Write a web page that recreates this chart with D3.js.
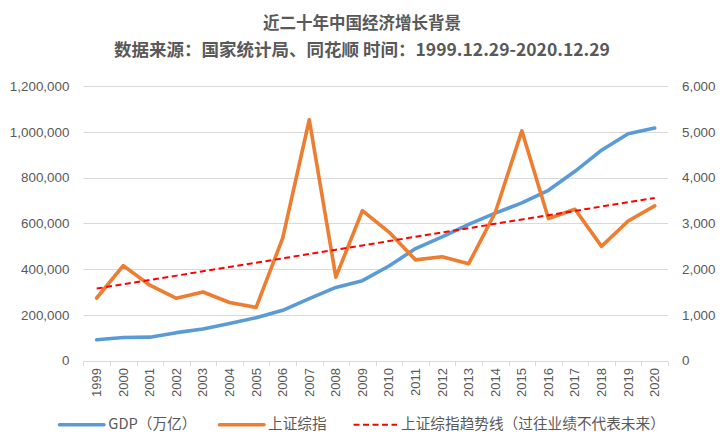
<!DOCTYPE html>
<html>
<head>
<meta charset="utf-8">
<script src="https://cdn.jsdelivr.net/npm/d3@7"></script>
<style>
  html, body { margin: 0; padding: 0; background: #fff; }
  svg { display: block; }
  text { font-family: "Liberation Sans", Arial, "Noto Sans CJK SC", sans-serif; }
  .cjk { font-family: "Noto Sans CJK SC", "Liberation Sans", sans-serif; }
</style>
</head>
<body>
<svg id="chart" width="724" height="448"></svg>
<script>
const years = ["1999","2000","2001","2002","2003","2004","2005","2006","2007","2008","2009","2010","2011","2012","2013","2014","2015","2016","2017","2018","2019","2020"];
const gdp = [90564, 100280, 102000, 121717, 137422, 161840, 187319, 219439, 270232, 319516, 349081, 413030, 489301, 540367, 595244, 643974, 689052, 744127, 827122, 919281, 990865, 1015986];
const szIndex = [1366, 2073, 1646, 1358, 1497, 1267, 1161, 2675, 5262, 1821, 3277, 2808, 2199, 2269, 2116, 3235, 5020, 3104, 3307, 2494, 3050, 3379];
const leftTicks = [0, 200000, 400000, 600000, 800000, 1000000, 1200000];
const rightTicks = [0, 1000, 2000, 3000, 4000, 5000, 6000];
const titleLines = ["近二十年中国经济增长背景", "数据来源：国家统计局、同花顺 时间：1999.12.29-2020.12.29"];
const legendLabels = ["GDP（万亿）", "上证综指", "上证综指趋势线（过往业绩不代表未来）"];

const svg = d3.select("#chart");
const M = { left: 83.4, right: 668, top: 86, bottom: 360.5 };
const grey = "#595959";

const x = d3.scaleBand().domain(years).range([M.left, M.right]);
const yL = d3.scaleLinear().domain([0, 1200000]).range([M.bottom, M.top]);
const yR = d3.scaleLinear().domain([0, 6000]).range([M.bottom, M.top]);
const cx = d => x(d) + x.bandwidth() / 2;

// Titles
svg.append("text").attr("class", "cjk").attr("x", 362).attr("y", 24.5)
  .attr("text-anchor", "middle").attr("dominant-baseline", "middle")
  .attr("font-size", 16.5).attr("font-weight", "bold").attr("fill", grey).text(titleLines[0]);
svg.append("text").attr("class", "cjk").attr("x", 362).attr("y", 51.5)
  .attr("text-anchor", "middle").attr("dominant-baseline", "middle")
  .attr("font-size", 17.5).attr("font-weight", "bold").attr("fill", grey).text(titleLines[1]);

// Gridlines
svg.append("g").selectAll("line").data(leftTicks.filter(d => d > 0)).join("line")
  .attr("x1", M.left).attr("x2", M.right)
  .attr("y1", d => Math.round(yL(d)) + 0.5).attr("y2", d => Math.round(yL(d)) + 0.5)
  .attr("stroke", "#d9d9d9").attr("stroke-width", 1);

// Left axis
const gL = svg.append("g").attr("transform", `translate(${M.left},0)`)
  .call(d3.axisLeft(yL).tickValues(leftTicks).tickFormat(d3.format(",")).tickSize(0).tickPadding(14));
gL.select(".domain").remove();
gL.selectAll("text").attr("font-size", 13.4).attr("fill", grey)
  .attr("font-family", "'Liberation Sans', Arial, sans-serif");

// Right axis
const gR = svg.append("g").attr("transform", `translate(${M.right},0)`)
  .call(d3.axisRight(yR).tickValues(rightTicks).tickFormat(d3.format(",")).tickSize(0).tickPadding(14));
gR.select(".domain").remove();
gR.selectAll("text").attr("font-size", 13.4).attr("fill", grey)
  .attr("font-family", "'Liberation Sans', Arial, sans-serif");

// Bottom axis
const yb = Math.round(M.bottom) + 0.5;
svg.append("line").attr("x1", M.left).attr("x2", M.right).attr("y1", yb).attr("y2", yb)
  .attr("stroke", "#d9d9d9").attr("stroke-width", 1);
const boundaries = years.map(d => x(d)).concat([M.right]);
svg.append("g").selectAll("line").data(boundaries).join("line")
  .attr("x1", d => Math.round(d) + 0.5).attr("x2", d => Math.round(d) + 0.5)
  .attr("y1", yb).attr("y2", yb + 4.5).attr("stroke", "#d9d9d9");
svg.append("g").selectAll("text").data(years).join("text")
  .attr("transform", d => `translate(${cx(d) + 4.5},${368}) rotate(-90)`)
  .attr("text-anchor", "end").attr("font-size", 13).attr("fill", grey)
  .attr("font-family", "'Liberation Sans', Arial, sans-serif")
  .text(d => d);

// Lines
const lineL = d3.line().x((d, i) => cx(years[i])).y(d => yL(d));
const lineR = d3.line().x((d, i) => cx(years[i])).y(d => yR(d));

svg.append("path").datum(gdp).attr("d", lineL)
  .attr("fill", "none").attr("stroke", "#5B9BD5").attr("stroke-width", 3.6)
  .attr("stroke-linejoin", "round").attr("stroke-linecap", "round");

svg.append("path").datum(szIndex).attr("d", lineR)
  .attr("fill", "none").attr("stroke", "#ED7D31").attr("stroke-width", 3.6)
  .attr("stroke-linejoin", "round").attr("stroke-linecap", "round");

// Linear trendline (least squares on index values, like Excel)
const n = szIndex.length;
const xs = d3.range(n);
const mx = d3.mean(xs), my = d3.mean(szIndex);
const slope = d3.sum(xs, i => (i - mx) * (szIndex[i] - my)) / d3.sum(xs, i => (i - mx) * (i - mx));
const icpt = my - slope * mx;
const trend = xs.map(i => icpt + slope * i);
svg.append("path").datum(trend).attr("d", lineR)
  .attr("fill", "none").attr("stroke", "#FF0000").attr("stroke-width", 2)
  .attr("stroke-dasharray", "6,3.5");

// Legend
const ly = 424.7;
const legend = [
  { x1: 59.5, x2: 104, tx: 108.3, color: "#5B9BD5", w: 3.6, dash: null, label: legendLabels[0] },
  { x1: 219.5, x2: 264, tx: 268, color: "#ED7D31", w: 3.6, dash: null, label: legendLabels[1] },
  { x1: 353.5, x2: 397, tx: 401, color: "#FF0000", w: 2, dash: "6,3.5", label: legendLabels[2] }
];
const lg = svg.append("g").selectAll("g").data(legend).join("g");
lg.append("line").attr("x1", d => d.x1).attr("x2", d => d.x2).attr("y1", ly).attr("y2", ly)
  .attr("stroke", d => d.color).attr("stroke-width", d => d.w)
  .attr("stroke-linecap", d => d.dash ? "butt" : "round")
  .attr("stroke-dasharray", d => d.dash);
lg.append("text").attr("class", "cjk").attr("x", d => d.tx).attr("y", ly)
  .attr("dominant-baseline", "middle").attr("font-size", 14.67).attr("fill", grey)
  .text(d => d.label);
</script>
</body>
</html>
